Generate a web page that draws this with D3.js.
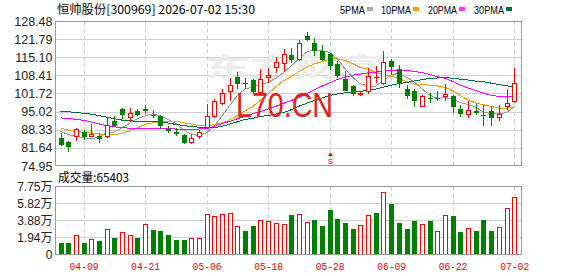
<!DOCTYPE html>
<html><head><meta charset="utf-8">
<script src="https://cdn.jsdelivr.net/npm/d3@7/dist/d3.min.js"></script>
<style>body{margin:0;background:#fff;}svg{display:block;}</style>
</head><body><svg id="c" width="578" height="276"></svg>
<script>
const dates = ["04-03","04-07","04-08","04-09","04-10","04-13","04-14","04-15","04-16","04-17",
"04-20","04-21","04-22","04-23","04-24","04-27","04-28","04-29","04-30","05-06",
"05-07","05-08","05-11","05-12","05-13","05-14","05-15","05-18","05-19","05-20",
"05-21","05-22","05-25","05-26","05-27","05-28","05-29","06-01","06-02","06-03",
"06-04","06-05","06-08","06-09","06-10","06-11","06-12","06-15","06-16","06-17",
"06-18","06-22","06-23","06-24","06-25","06-26","06-29","06-30","07-01","07-02"];
const open = [85.4,83.9,85.75,87.4,85.8,86.1,85.7,91.5,95.9,92.7,
95.1,96.05,93.35,93.3,88.7,87.4,86.5,83.4,85.6,89.0,
93.1,98.0,102.3,107.8,105.6,106.85,101.95,107.5,111.0,112.75,
116.05,114.2,123.05,120.35,117.3,116.3,112.6,107.1,104.4,101.1,
102.2,107.7,105.25,113.7,110.8,103.5,102.55,96.8,100.0,100.0,
100.35,100.7,96.05,93.7,95.4,93.4,95.2,92.5,96.67,98.5];
const high = [87.2,84.3,89.06,88.1,90.6,87.2,92.7,93.35,96.5,96.4,
96.0,97.3,95.8,93.6,89.7,89.06,86.85,86.6,88.1,97.8,
99.5,103.2,107.5,109.55,107.5,107.1,110.8,111.2,115.2,118.1,
118.5,121.6,124.4,122.2,119.7,116.7,113.6,109.9,105.0,102.55,
111.0,111.75,117.3,114.5,112.4,105.0,103.2,101.3,101.95,102.8,
105.4,101.3,97.65,98.9,98.3,97.3,97.0,97.3,103.4,111.1];
const low = [82.5,80.1,84.15,84.5,85.6,83.5,85.3,89.9,92.2,91.2,
93.5,94.2,92.6,88.5,87.2,86.2,83.1,83.1,85.0,88.5,
92.7,97.3,98.9,103.2,103.4,101.95,101.3,105.6,109.3,109.55,
113.0,113.6,120.96,115.45,113.6,110.5,107.5,102.55,100.7,100.7,
101.5,105.6,105.0,108.7,103.8,99.5,96.8,96.7,98.3,98.9,
98.9,94.6,93.0,92.7,93.7,89.9,89.9,91.5,95.8,98.3];
const close = [82.7,81.9,88.45,85.75,86.6,85.0,90.2,89.9,93.6,94.7,
93.6,95.4,93.9,89.6,88.0,86.7,83.5,85.4,87.4,93.35,
98.9,101.95,105.0,105.4,105.7,102.2,107.1,108.7,113.2,116.3,
114.0,120.35,121.3,117.3,114.1,111.7,108.2,102.8,101.5,102.0,
108.0,107.9,113.35,111.4,105.4,100.7,98.9,100.96,99.5,99.7,
101.7,96.8,94.0,95.8,94.58,93.6,92.74,94.2,98.3,105.6];
const volume = [13500,13500,21800,13500,17300,15800,28600,18800,25600,21800,
18800,35300,27800,26700,22200,16500,16500,18800,18800,45900,
44400,45900,47700,32000,26700,32300,39800,38000,35700,34600,
44700,45900,36800,39100,32300,50400,40200,35700,28900,33500,
44700,47000,71800,57100,35700,28900,38000,34600,38000,26700,
44700,43600,25600,30000,26700,39100,26700,31200,52600,65403];
const volUp = [0,0,1,0,1,0,1,0,1,1, 0,1,0,0,0,0,0,1,1,1,
1,1,1,1,0,0,1,1,1,1, 0,1,1,0,0,0,0,0,0,1,
1,0,1,0,0,0,0,1,0,1, 1,0,0,1,0,0,0,1,1,1];
const ma5 = [87.8,86.5,86.0,85.3,85.08,85.54,87.2,87.49,89.06,90.68,
92.4,93.44,94.24,93.44,92.1,90.72,88.34,86.64,86.2,87.27,
89.71,93.4,97.32,100.92,103.39,104.05,105.08,105.82,107.38,109.5,
111.86,114.51,117.03,117.85,117.41,116.95,114.52,110.82,107.66,105.24,
104.5,104.44,106.55,108.53,109.21,107.75,105.95,103.47,101.09,99.95,
100.15,99.73,98.34,97.6,96.58,94.96,94.14,94.18,94.68,96.89];
const ma10 = [89.0,88.2,87.7,87.4,87.2,86.8,86.4,86.5,87.0,87.88,
88.97,90.32,90.87,91.25,91.39,91.56,90.89,90.44,89.82,89.69,
90.22,90.87,91.98,93.56,95.33,96.88,99.24,101.57,104.15,106.45,
107.96,109.8,111.43,112.62,113.46,114.41,114.52,113.93,112.76,111.33,
110.73,109.48,108.69,108.1,107.23,106.13,105.2,105.01,104.81,104.58,
103.95,102.84,100.91,99.35,98.26,97.55,96.94,96.26,96.14,96.73];
const ma20 = [92.7,92.5,92.2,91.8,91.2,90.5,89.9,89.4,89.1,88.9,
88.8,88.8,88.8,88.7,88.7,88.6,88.5,88.5,88.6,88.78,
89.59,90.6,91.42,92.4,93.36,94.22,95.07,96.0,96.99,98.07,
99.09,100.33,101.7,103.09,104.39,105.64,106.88,107.75,108.45,108.89,
109.34,109.64,110.06,110.36,110.34,110.27,109.86,109.47,108.78,107.95,
107.34,106.16,104.8,103.72,102.74,101.84,101.07,100.64,100.48,100.66];
const ma30 = [95.2,95.0,94.7,94.4,94.1,93.6,93.0,92.4,91.9,91.6,
91.5,91.4,91.3,91.15,90.8,90.3,89.9,89.5,89.3,89.15,
89.1,89.6,90.4,91.3,92.1,92.6,93.2,93.6,94.1,94.67,
95.71,97.0,98.09,99.14,100.06,100.95,101.55,101.98,102.24,102.49,
102.97,103.38,104.03,104.76,105.34,105.8,106.32,106.84,107.24,107.45,
107.54,107.37,107.01,106.69,106.31,106.03,105.55,105.07,104.57,104.21];
const xTickLabels = ["04-09","04-21","05-06","05-18","05-28","06-09","06-22","07-02"];
const priceTicks = [128.48,121.79,115.10,108.41,101.72,95.02,88.33,81.64,74.95];
const volTicks = [77500,58200,38800,19400,0];
const volTickLabels = ["7.75万","5.82万","3.88万","1.94万","0"];
const maNames = ["5PMA","10PMA","20PMA","30PMA"];
const maColors = ["#999999","#f0a000","#ff00ff","#00703a"];
const legendColors = ["#aaaaaa","#f0a000","#ff33ff","#00703a"];

const svg = d3.select("#c");
const L = 55.5, R = 521.5, T1 = 21.5, B1 = 165.5, T2 = 186.5, B2 = 254.5;
const x = d3.scalePoint().domain(dates).range([60.5, 514.2]);
const y = d3.scaleLinear().domain([74.95, 128.48]).range([166, 21]);
const yv = d3.scaleLinear().domain([0, 77500]).range([254.5, 186.5]);
const cx = d => Math.round(x(d));

// grids
const g = svg.append("g");
g.selectAll("line.hp").data(priceTicks.slice(1, -1)).join("line")
  .attr("x1", L).attr("x2", R).attr("y1", d => Math.round(y(d)) + 0.5).attr("y2", d => Math.round(y(d)) + 0.5)
  .attr("stroke", "#cfcfcf");
g.selectAll("line.hv").data(volTicks.slice(1, -1)).join("line")
  .attr("x1", L).attr("x2", R).attr("y1", d => Math.round(yv(d)) + 0.5).attr("y2", d => Math.round(yv(d)) + 0.5)
  .attr("stroke", "#cfcfcf");
[[T1, B1], [T2, B2]].forEach(([t, b]) => {
  g.append("g").selectAll("line").data(xTickLabels).join("line")
    .attr("x1", d => cx(d) + 0.5).attr("x2", d => cx(d) + 0.5).attr("y1", t).attr("y2", b)
    .attr("stroke", "#cfcfcf").attr("stroke-dasharray", "4,3");
});

// faint logo watermark (kept clear of the red watermark text)
svg.append("text").attr("x", 205).attr("y", 77).text("东方财富")
  .attr("font-family", "Noto Sans CJK SC").attr("font-weight", "bold").attr("font-size", 26)
  .attr("fill", "#ececec").attr("textLength", 180).attr("lengthAdjust", "spacingAndGlyphs");

// MA lines
[ma5, ma10, ma20, ma30].forEach((arr, k) => {
  const line = d3.line().x((d, i) => x(dates[i])).y(d => y(d));
  svg.append("path").datum(arr).attr("d", line).attr("fill", "none")
    .attr("stroke", maColors[k]).attr("stroke-width", 1).attr("shape-rendering", "crispEdges");
});

// candles
const cdata = dates.map((d, i) => ({d, o: open[i], h: high[i], l: low[i], c: close[i]}));
const cg = svg.append("g").attr("shape-rendering", "crispEdges");
cdata.forEach(k => {
  const up = k.c >= k.o;
  const col = up ? "#ff0000" : "#008000";
  const xc = cx(k.d);
  const top = Math.round(y(Math.max(k.o, k.c))), bot = Math.round(y(Math.min(k.o, k.c)));
  if (up) {
    cg.append("line").attr("x1", xc + 0.5).attr("x2", xc + 0.5).attr("y1", Math.round(y(k.h))).attr("y2", top).attr("stroke", col);
    cg.append("line").attr("x1", xc + 0.5).attr("x2", xc + 0.5).attr("y1", bot).attr("y2", Math.round(y(k.l))).attr("stroke", col);
    cg.append("rect").attr("x", xc - 2 + 0.5).attr("y", top + 0.5).attr("width", 4).attr("height", Math.max(bot - top - 1, 0))
      .attr("fill", "#fff").attr("stroke", col);
    if (bot - top <= 1) cg.append("line").attr("x1", xc - 2).attr("x2", xc + 3).attr("y1", top + 0.5).attr("y2", top + 0.5).attr("stroke", col);
  } else {
    cg.append("line").attr("x1", xc + 0.5).attr("x2", xc + 0.5).attr("y1", Math.round(y(k.h))).attr("y2", Math.round(y(k.l))).attr("stroke", col);
    cg.append("rect").attr("x", xc - 2).attr("y", top).attr("width", 5).attr("height", Math.max(bot - top, 1)).attr("fill", col);
  }
});

// volume bars
const vg = svg.append("g").attr("shape-rendering", "crispEdges");
dates.forEach((d, i) => {
  const xc = cx(d), t = Math.round(yv(volume[i]));
  if (volUp[i]) {
    vg.append("rect").attr("x", xc - 2 + 0.5).attr("y", t + 0.5).attr("width", 4).attr("height", B2 - t - 0.5)
      .attr("fill", "#fff").attr("stroke", "#ff0000");
  } else {
    vg.append("rect").attr("x", xc - 2).attr("y", t).attr("width", 5).attr("height", B2 - t).attr("fill", "#008000");
  }
});

// frames
[[T1, B1], [T2, B2]].forEach(([t, b]) => {
  svg.append("rect").attr("x", L).attr("y", t).attr("width", R - L).attr("height", b - t)
    .attr("fill", "none").attr("stroke", "#999").attr("shape-rendering", "crispEdges");
});

// axes
const ya = svg.append("g").attr("transform", `translate(${L},0)`)
  .call(d3.axisLeft(y).tickValues(priceTicks).tickFormat(d => d.toFixed(2)).tickSize(0).tickPadding(3));
ya.select(".domain").remove();
ya.selectAll("text").attr("font-family", "Liberation Sans, Arial").attr("font-size", 12.5).attr("fill", "#222");
const va = svg.append("g").attr("transform", `translate(${L},0)`)
  .call(d3.axisLeft(yv).tickValues(volTicks).tickFormat((d, i) => volTickLabels[i]).tickSize(0).tickPadding(3));
va.select(".domain").remove();
va.selectAll("text").attr("font-family", "Liberation Sans, Noto Sans CJK SC").attr("font-size", 12).attr("fill", "#222");
const xa = svg.append("g").attr("transform", `translate(0,${B2})`)
  .call(d3.axisBottom(x).tickValues(xTickLabels).tickSize(0).tickPadding(7));
xa.select(".domain").remove();
xa.selectAll("text").attr("font-family", "Liberation Mono, DejaVu Sans Mono").attr("font-size", 11.5).attr("fill", "#ee0000")
  .attr("textLength", 29).attr("lengthAdjust", "spacingAndGlyphs");

// header
svg.append("text").attr("x", 57).attr("y", 13.5).text("恒帅股份[300969] 2026-07-02 15:30")
  .attr("font-family", "Noto Sans CJK SC").attr("font-size", 12).attr("fill", "#000")
  .attr("textLength", 198).attr("lengthAdjust", "spacingAndGlyphs");
const legX = [340, 381, 428, 474], legW = [25, 30, 29, 30];
maNames.forEach((n, k) => {
  svg.append("text").attr("x", legX[k]).attr("y", 13.5).text(n)
    .attr("font-family", "Liberation Sans, Arial").attr("font-size", 11.5).attr("fill", "#000")
    .attr("textLength", legW[k]).attr("lengthAdjust", "spacingAndGlyphs");
  svg.append("rect").attr("x", legX[k] + legW[k] + 2).attr("y", 7).attr("width", 6).attr("height", 4).attr("fill", legendColors[k]);
});
svg.append("text").attr("x", 58).attr("y", 182).text("成交量:65403")
  .attr("font-family", "Noto Sans CJK SC").attr("font-size", 12).attr("fill", "#000")
  .attr("textLength", 71).attr("lengthAdjust", "spacingAndGlyphs");

// S marker
const sx = cx("05-28") + 0.5;
svg.append("path").attr("d", `M${sx - 2.5},${156} L${sx},${152.5} L${sx + 2.5},${156} Z`).attr("fill", "#e00");
svg.append("text").attr("x", sx).attr("y", 164).attr("text-anchor", "middle").text("S")
  .attr("font-family", "Liberation Sans").attr("font-size", 8).attr("fill", "#e00");

// red watermark
svg.append("text").attr("x", 236).attr("y", 117).text("L70.CN")
  .attr("font-family", "Liberation Sans, Arial").attr("font-size", 35).attr("fill", "#e2231a")
  .attr("textLength", 97).attr("lengthAdjust", "spacingAndGlyphs");
</script></body></html>
